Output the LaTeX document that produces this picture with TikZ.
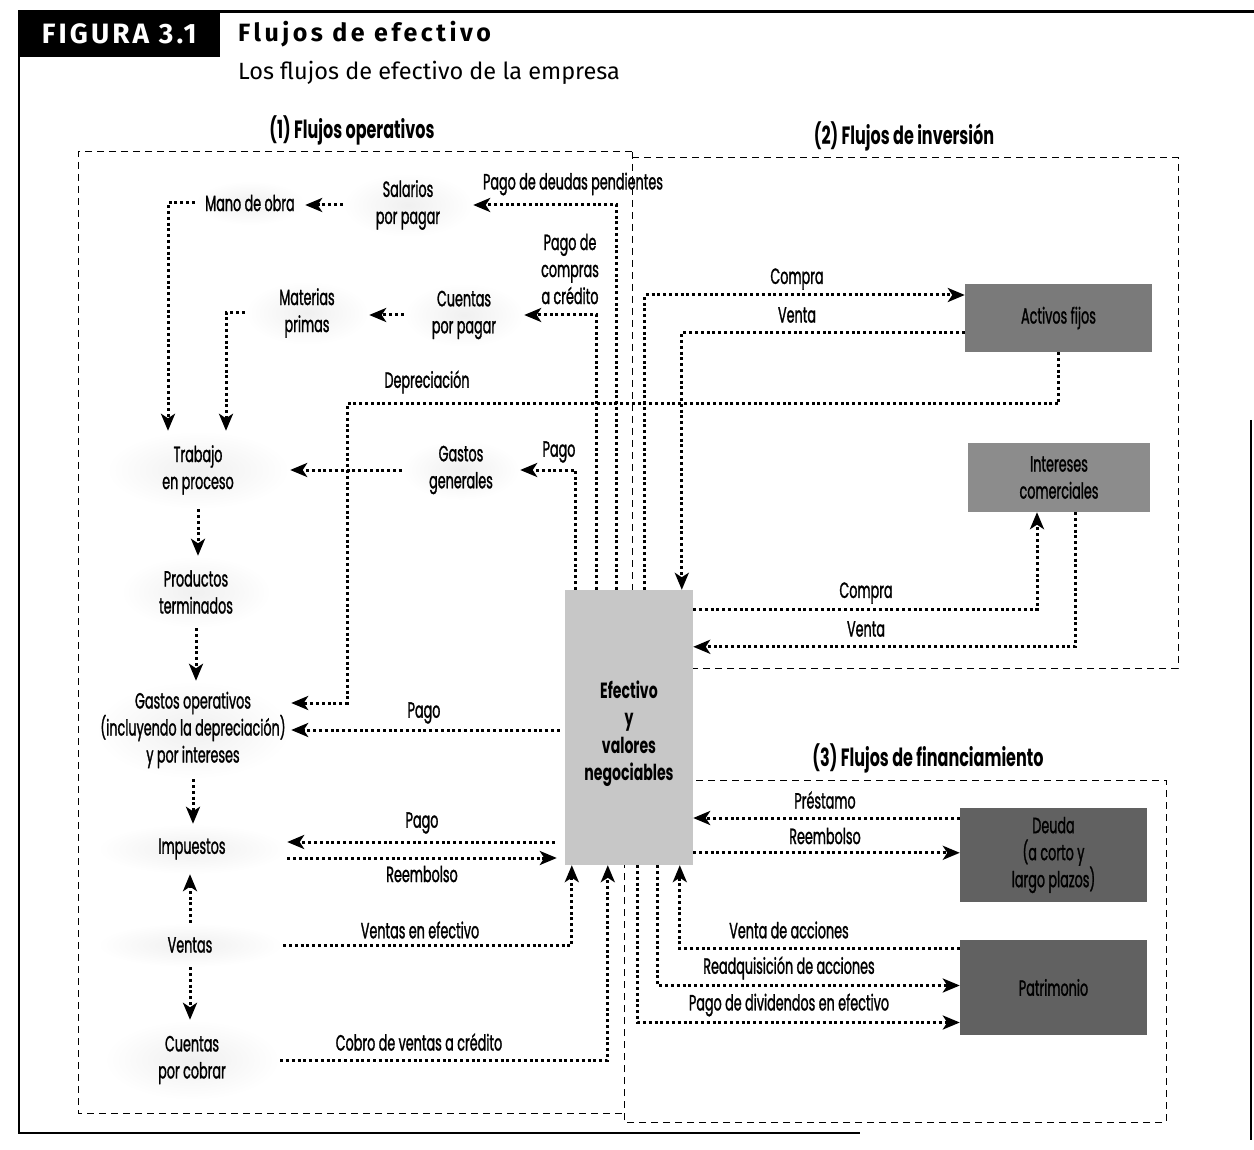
\documentclass[tikz,border=0pt]{standalone}
\usepackage{fontspec}
\usetikzlibrary{arrows.meta,calc}
\newfontfamily\fut{Poppins}[FakeStretch=0.58, UprightFeatures={FakeBold=1.2}]
\newfontfamily\futb{Poppins}[FakeStretch=0.64]
\newfontfamily\hfont{Fira Sans}
\newfontfamily\hspaced{Fira Sans}[LetterSpace=14]
\newfontfamily\figfont{Fira Sans}[LetterSpace=11]
\begin{document}
\begin{tikzpicture}[x=1pt,y=-1pt,
  txt/.style={font=\fut\fontsize{22}{27}\selectfont, align=center, inner sep=0pt},
  hd/.style={font=\futb\bfseries\fontsize{25}{27}\selectfont, inner sep=0pt},
  halo/.style={txt, inner color=black!6, outer color=white},
  dbox/.style={line width=1pt, dash pattern=on 7pt off 5pt},
  dots/.style={line width=3pt, dash pattern=on 3pt off 2.8pt},
  flow/.style={dots, -{Stealth[length=17pt,width=14pt,inset=4.5pt]}}
]
\useasboundingbox (0,0) rectangle (1254,1150);
\fill[white] (0,0) rectangle (1254,1150);

% frame
\draw[line width=3pt] (18,12) -- (1254,12);
\draw[line width=2pt] (19,12) -- (19,1133) -- (860,1133);
\draw[line width=2.5pt] (1251,420) -- (1251,1140);

% header
\node[fill=black, text=white, font=\figfont\bfseries\fontsize{28}{30}\selectfont,
      minimum width=202, minimum height=47, anchor=north west, inner sep=0pt] (fig) at (18,10) {FIGURA 3.1};
\node[anchor=west, inner sep=0pt, font=\hspaced\bfseries\fontsize{25}{28}\selectfont] (tit) at (238,34) {Flujos de efectivo};
\node[anchor=west, inner sep=0pt, font=\hfont\fontsize{23.5}{26}\selectfont] (sub) at (238,73) {Los flujos de efectivo de la empresa};

% dashed regions
\draw[dbox] (632,152) -- (78,152) -- (78,1113) -- (624,1113);
\draw[dbox] (632,152) -- (632,700);
\draw[dbox] (632,158) -- (1178,158) -- (1178,668) -- (632,668);
\draw[dbox] (624,780) -- (1166,780) -- (1166,1122) -- (624,1122) -- cycle;

% headings
\node[hd] (h1) at (352,130) {(1) Flujos operativos};
\node[hd] (h2) at (904,136) {(2) Flujos de inversión};
\node[hd] (h3) at (928,758) {(3) Flujos de financiamiento};

% operating nodes
\node[halo, minimum width=110, minimum height=44] (mano) at (250,203) {Mano de obra};
\node[halo, minimum width=130, minimum height=64] (sal) at (408,205) {Salarios\\por pagar};
\node[halo, minimum width=124, minimum height=64] (mat) at (307,313) {Materias\\primas};
\node[halo, minimum width=120, minimum height=64] (cpp) at (464,315) {Cuentas\\por pagar};
\node[halo, minimum width=184, minimum height=78] (trab) at (198,470) {Trabajo\\en proceso};
\node[halo, minimum width=118, minimum height=60] (gg) at (461,470) {Gastos\\generales};
\node[halo, minimum width=150, minimum height=72] (prod) at (196,592) {Productos\\terminados};
\node[halo, minimum width=196, minimum height=98] (gop) at (193,730) {Gastos operativos\\(incluyendo la depreciación)\\y por intereses};
\node[halo, minimum width=190, minimum height=50] (imp) at (192,849) {Impuestos};
\node[halo, minimum width=186, minimum height=44] (ven) at (190,945) {Ventas};
\node[halo, minimum width=176, minimum height=80] (cpc) at (192,1060) {Cuentas\\por cobrar};

% gray boxes
\node[txt, fill=black!22, minimum width=128, minimum height=275, font=\futb\bfseries\fontsize{22}{27.5}\selectfont] (ef) at (629,727.5) {\rule{0pt}{30pt}Efectivo\\y\\valores\\negociables};
\node[txt, fill=black!52, minimum width=187, minimum height=68] (af) at (1058.5,318) {Activos fijos};
\node[txt, fill=black!45, minimum width=182, minimum height=69] (ic) at (1059,477.5) {Intereses\\comerciales};
\node[txt, fill=black!62, minimum width=187, minimum height=94] (deu) at (1053.5,855) {Deuda\\(a corto y\\largo plazos)};
\node[txt, fill=black!62, minimum width=187, minimum height=95] (pat) at (1053.5,987.5) {Patrimonio};

% operating chain
\draw[flow] (sal.west) -- (sal.west -| mano.east);
\draw[flow] (cpp.west) -- (cpp.west -| mat.east);
\draw[flow] (gg.west) -- (gg.west -| trab.east);
\draw[flow] (mano.west) -| ($(trab.north)+(-30,0)$);
\draw[flow] (mat.west) -| ($(trab.north)+(28,0)$);
\draw[flow] (trab.south) -- (trab.south |- prod.north);
\draw[flow] (prod.south) -- (prod.south |- gop.north);
\draw[flow] (gop.south) -- (gop.south |- imp.north);
\draw[flow] (ven.north) -- (ven.north |- imp.south);
\draw[flow] (ven.south) -- (ven.south |- cpc.north);

% from cash (top)
\draw[flow] ($(ef.north west)+(11,0)$) |- (gg.east);
\draw[flow] ($(ef.north west)+(32,0)$) |- (cpp.east);
\draw[flow] ($(ef.north west)+(52,0)$) |- (sal.east);
\draw[flow] ($(ef.north west)+(80,0)$) |- ($(af.west)+(0,-23)$);
\draw[flow] ($(af.west)+(0,15)$) -| ($(ef.north west)+(117,0)$);
\coordinate (dep) at (347,404);
\draw[flow] (af.south) |- (dep) |- ($(gop.east)+(0,-27)$);

% right of cash
\draw[flow] ($(ef.north east)+(0,20)$) -| ($(ic.south)+(-22,0)$);
\draw[flow] ($(ic.south)+(16,0)$) |- ($(ef.north east)+(0,57)$);
\path ($(deu.west)+(0,-37)$) coordinate (pres);
\draw[flow] (pres) -- (pres -| ef.east);
\path ($(ef.north east)+(0,263)$) coordinate (reem);
\draw[flow] (reem) -- (reem -| deu.west);

% left of cash
\draw[flow, shorten <=5pt] (gop.east -| ef.west) -- (gop.east);
\path ($(imp.east)+(0,-7)$) coordinate (impP);
\draw[flow, shorten <=10pt] (impP -| ef.west) -- (impP);
\path ($(imp.east)+(0,9)$) coordinate (impR);
\draw[flow, shorten >=8pt] (impR) -- (impR -| ef.west);

% bottom of cash
\draw[flow] (ven.east) -| ($(ef.south west)+(7,0)$);
\draw[flow] (cpc.east) -| ($(ef.south west)+(43,0)$);
\draw[flow] ($(ef.south west)+(73,0)$) |- ($(pat.west)+(0,35)$);
\draw[flow] ($(ef.south west)+(93,0)$) |- ($(pat.west)+(0,-2)$);
\draw[flow] ($(pat.west)+(0,-39)$) -| ($(ef.south west)+(115,0)$);

% labels
\node[txt] (lpd) at (573,184) {Pago de deudas pendientes};
\node[txt] (lpc) at (570,269) {Pago de\\compras\\a crédito};
\node[txt] (ldep) at (427,382) {Depreciación};
\node[txt] (lpg) at (559,452) {Pago};
\node[txt] (lc1) at (797,279) {Compra};
\node[txt] (lv1) at (797,315) {Venta};
\node[txt] (lc2) at (866,593) {Compra};
\node[txt] (lv2) at (866,629) {Venta};
\node[txt] (lp2) at (424,713) {Pago};
\node[txt] (lp3) at (422,823) {Pago};
\node[txt] (lr1) at (422,874) {Reembolso};
\node[txt] (lve) at (420,930) {Ventas en efectivo};
\node[txt] (lcv) at (419,1042) {Cobro de ventas a crédito};
\node[txt] (lpr) at (825,800) {Préstamo};
\node[txt] (lr2) at (825,836) {Reembolso};
\node[txt] (lva) at (789,930) {Venta de acciones};
\node[txt] (lra) at (789,968) {Readquisición de acciones};
\node[txt] (ldv) at (789,1005) {Pago de dividendos en efectivo};
\end{tikzpicture}
\end{document}
